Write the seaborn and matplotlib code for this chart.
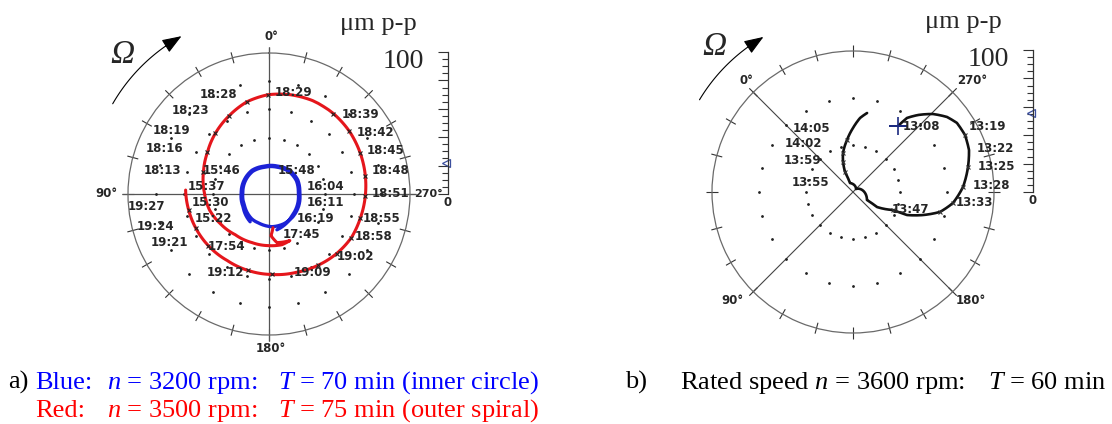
import numpy as np
import matplotlib
matplotlib.use('Agg')
import matplotlib.pyplot as plt
import seaborn as sns

W, H = 1112, 424

# a) phase in degrees (0 at top, counter-clockwise) and amplitude in um p-p
blue_phase = [145.8, 116.6, 88.0, 60.8, 35.3, 10.1, 342.2, 318.8, 295.8, 271.8,
              248.2, 226.2, 206.6, 185.2, 163.3,
              145.8, 116.6, 88.0, 60.8, 35.3, 10.1, 342.2, 318.8, 295.8, 271.8,
              248.2, 226.2, 214.2, 200.0, 192.5]
blue_amp = [23.8, 20.5, 19.7, 20.2, 20.7, 20.0, 20.7, 22.4, 22.7, 21.8,
            22.7, 23.4, 23.6, 23.3, 22.0,
            21.5, 19.3, 18.6, 19.2, 19.8, 19.2, 19.9, 21.3, 21.6, 20.8,
            21.6, 22.4, 23.8, 25.2, 26.0]

red_phase = [186.7, 182.7, 189.3, 204.1, 194.3, 178.9, 160.9, 140.3, 121.5, 104.9,
             89.1, 71.6, 55.9, 41.5, 26.9, 13.3, 0.6, 348.1, 334.9, 321.3,
             307.9, 294.0, 280.5, 268.8, 255.4, 242.1, 228.6, 214.2, 198.9, 182.1,
             164.7, 147.9, 130.4, 114.7, 101.2, 87.3]
red_amp = [24.1, 29.6, 34.9, 36.2, 37.1, 36.6, 36.5, 37.5, 40.4, 43.7,
           45.8, 49.0, 52.7, 57.4, 62.3, 67.3, 70.4, 72.0, 73.1, 73.1,
           72.3, 70.9, 69.5, 68.3, 67.0, 66.1, 63.9, 61.3, 58.8, 57.1,
           56.2, 55.7, 56.5, 57.3, 58.1, 59.2]
red_marks = [11, 12, 13, 14, 15, 16, 19, 20, 21, 22, 23, 24, 25, 26, 27, 29, 30, 32, 33, 34]

# b) phase in degrees (0 at upper left, counter-clockwise) and amplitude in um p-p
black_phase = [280.7, 278.9, 274.8, 269.3, 263.6, 258.6, 252.0, 244.9, 237.3, 227.6,
               218.7, 212.1, 206.8, 201.9, 200.8, 193.0, 195.3, 270.0, 333.4, 336.8,
               333.4, 329.4, 321.6, 315.0, 309.6, 304.9]
black_amp = [56.7, 65.0, 71.5, 79.2, 85.3, 88.5, 89.1, 87.5, 83.5, 78.1,
             71.3, 63.3, 52.3, 41.6, 31.1, 20.1, 11.4, 3.0, 6.7, 15.3,
             22.4, 28.5, 37.1, 45.4, 52.7, 56.9]
black_marks = [6, 8, 9, 10, 11, 14, 19, 20, 21, 22]

level_a = 21.5
level_b = 55.6

# time stamps and where they sit (pixels)
labels_a = [('18:28', 200, 95), ('18:29', 275, 93), ('18:23', 172, 111),
            ('18:19', 153, 130), ('18:16', 146, 149), ('18:13', 144, 170),
            ('15:46', 203, 171), ('15:48', 278, 170), ('15:37', 188, 187),
            ('16:04', 307, 187), ('16:11', 307, 203), ('15:30', 192, 203),
            ('19:27', 128, 207), ('15:22', 195, 219), ('16:19', 297, 219),
            ('19:24', 137, 226), ('17:45', 283, 235), ('19:21', 151, 243),
            ('17:54', 208, 247), ('19:12', 207, 272), ('19:09', 294, 273),
            ('18:39', 342, 114), ('18:42', 357, 132), ('18:45', 367, 151),
            ('18:48', 372, 171), ('18:51', 372, 193), ('18:55', 363, 219),
            ('18:58', 355, 237), ('19:02', 337, 257)]
labels_b = [('14:05', 793, 128), ('14:02', 785, 144), ('13:59', 784, 160),
            ('13:55', 792, 183), ('13:08', 903, 126), ('13:19', 969, 126),
            ('13:22', 977, 148), ('13:25', 978, 167), ('13:28', 973, 186),
            ('13:33', 956, 203), ('13:47', 892, 210)]

sns.set_style('white')
plt.rcParams['font.family'] = ['DejaVu Sans']
plt.rcParams['mathtext.fontset'] = 'custom'
plt.rcParams['mathtext.rm'] = 'Liberation Serif'
plt.rcParams['mathtext.it'] = 'Liberation Serif:italic'

fig = plt.figure(figsize=(W / 100, H / 100), dpi=100)


def fx(x):
    return x / W


def fy(y):
    return 1 - y / H


def polar_axes(cx, cy, r):
    ax = fig.add_axes([fx(cx - r), fy(cy + r), 2 * r / W, 2 * r / H], projection='polar')
    ax.set_xticks([])
    ax.set_yticks([])
    ax.grid(False)
    ax.spines['polar'].set_color('#6a6a6a')
    ax.spines['polar'].set_linewidth(0.9)
    ax.vlines(np.deg2rad(np.arange(0, 360, 15)), 96, 104, colors='#333333',
              lw=0.8, clip_on=False)
    return ax


def dots(ax, rings):
    th = np.deg2rad(np.arange(0, 360, 15))
    for r in rings:
        ax.plot(th, np.full(th.shape, r), ls='none', marker='o', ms=1.0,
                color='#222222')


def trace(ax, phase, amp, color, lw):
    th = np.unwrap(np.deg2rad(phase))
    sns.lineplot(x=th, y=amp, sort=False, estimator=None, ax=ax, color=color,
                 linewidth=lw)
    # draw each segment as a spiral arc in polar space
    ax.lines[-1].get_path()._interpolation_steps = 40
    return th


def omega_arrow(ax, t0, t1, r, x, y):
    ax.plot(np.deg2rad(np.linspace(t0, t1 + 4, 30)), np.full(30, r), color='k',
            lw=0.8, clip_on=False)
    ax.annotate('', xy=(np.deg2rad(t1), r), xytext=(np.deg2rad(t1 + 6), r),
                arrowprops=dict(arrowstyle='-|>,head_length=0.8,head_width=0.3',
                                mutation_scale=15, color='k', lw=0.8,
                                shrinkA=0, shrinkB=0),
                annotation_clip=False)
    fig.text(fx(x), fy(y), 'Ω', fontsize=24, family='Liberation Serif',
             style='italic', va='baseline')


def scale_bar(x, y0, level):
    ax = fig.add_axes([fx(x - 8), fy(y0), 8 / W, 142 / H])
    ax.set_xlim(0, 1)
    ax.set_ylim(0, 100)
    for s in ['left', 'top', 'bottom']:
        ax.spines[s].set_visible(False)
    ax.spines['right'].set_color('#333333')
    ax.spines['right'].set_linewidth(0.9)
    ax.set_xticks([])
    ax.set_yticks(np.arange(0, 101, 20))
    ax.set_yticks(np.arange(0, 101, 5), minor=True)
    ax.tick_params(axis='y', which='major', direction='in', length=7, width=0.8,
                   color='#333333', right=True, left=False, labelright=False,
                   labelleft=False)
    ax.tick_params(axis='y', which='minor', direction='in', length=4, width=0.8,
                   color='#333333', right=True, left=False)
    ax.patch.set_alpha(0)
    ax.plot([0.7], [level], marker='<', mfc='none', mec='#3b4f9e', mew=0.9, ms=6,
            clip_on=False)
    fig.text(fx(x), fy(y0 + 9), '0', fontsize=8.5, fontweight='bold',
             ha='center', va='center')
    fig.text(fx(x - 24), fy(y0 - 126), '100', fontsize=20,
             family='Liberation Serif', ha='right', va='baseline')
    fig.text(fx(x - 108), fy(y0 - 164), 'μm p-p', fontsize=19,
             family='Liberation Serif', ha='left', va='baseline')


# ---- a)
ax_a = polar_axes(269, 194, 141)
ax_a.set_theta_zero_location('N')
ax_a.vlines(np.deg2rad([0, 90, 180, 270]), 0, 104.5, colors='#555555', lw=0.9,
            clip_on=False)
dots(ax_a, [40, 60, 80])
trace(ax_a, blue_phase, blue_amp, '#1c22d6', 2.4)
th = trace(ax_a, red_phase, red_amp, '#e5161c', 2.2)
ax_a.plot(th[red_marks], np.array(red_amp)[red_marks], ls='none', marker='x',
          ms=3.5, mew=0.8, color='#222222')
omega_arrow(ax_a, 60, 29, 128, 110, 63)
ax_a.set_xlim(0, 2 * np.pi)
ax_a.set_ylim(0, 100)
ax_a.set_xlabel('')
ax_a.set_ylabel('')

for s, x, y in [('0°', 271, 36), ('90°', 106, 194), ('180°', 271, 349)]:
    fig.text(fx(x), fy(y), s, fontsize=8.5, fontweight='bold', ha='center',
             va='center')
fig.text(fx(414), fy(194), '270°', fontsize=8, fontweight='bold', ha='left',
         va='center')
for s, x, y in labels_a:
    fig.text(fx(x), fy(y), s, fontsize=8.5, fontweight='bold', ha='left',
             va='center')
scale_bar(448, 194, level_a)

# ---- b)
ax_b = polar_axes(853, 192, 141)
ax_b.set_theta_offset(np.deg2rad(135))
ax_b.vlines(np.deg2rad([0, 90, 180, 270]), 0, 100.5, colors='#444444', lw=0.8,
            clip_on=False)
dots(ax_b, [33.3, 66.7])
th = trace(ax_b, black_phase, black_amp, '#111111', 1.9)
ax_b.plot(th[black_marks], np.array(black_amp)[black_marks], ls='none',
          marker='x', ms=3.5, mew=0.8, color='#333333')
ax_b.plot(th[:1], black_amp[:1], ls='none', marker='+', ms=13, mew=1.2,
          color='#1b2a80')
omega_arrow(ax_b, 14, -15, 127, 702, 55)
ax_b.set_xlim(0, 2 * np.pi)
ax_b.set_ylim(0, 100)
ax_b.set_xlabel('')
ax_b.set_ylabel('')

for s, x, y in [('0°', 746, 81), ('270°', 972, 81), ('90°', 732, 301),
                ('180°', 971, 301)]:
    fig.text(fx(x), fy(y), s, fontsize=8.5, fontweight='bold', ha='center',
             va='center')
for s, x, y in labels_b:
    fig.text(fx(x), fy(y), s, fontsize=8.5, fontweight='bold', ha='left',
             va='center')
scale_bar(1033, 192, level_b)

# ---- captions
cap = dict(fontsize=19, family='Liberation Serif', va='baseline')
blue, red = '#0000ff', '#ff0000'
fig.text(fx(8), fy(389), 'a)', color='k', **cap)
fig.text(fx(35), fy(389), 'Blue:', color=blue, **cap)
fig.text(fx(107), fy(389), '$n$ = 3200 rpm:', color=blue, **cap)
fig.text(fx(278), fy(389), '$T$ = 70 min (inner circle)', color=blue, **cap)
fig.text(fx(35), fy(417), 'Red:', color=red, **cap)
fig.text(fx(107), fy(417), '$n$ = 3500 rpm:', color=red, **cap)
fig.text(fx(278), fy(417), '$T$ = 75 min (outer spiral)', color=red, **cap)
fig.text(fx(625), fy(389), 'b)', color='k', **cap)
fig.text(fx(680), fy(389), 'Rated speed $n$ = 3600 rpm:', color='k', **cap)
fig.text(fx(988), fy(389), '$T$ = 60 min', color='k', **cap)

fig.savefig('out.png', dpi=100)
